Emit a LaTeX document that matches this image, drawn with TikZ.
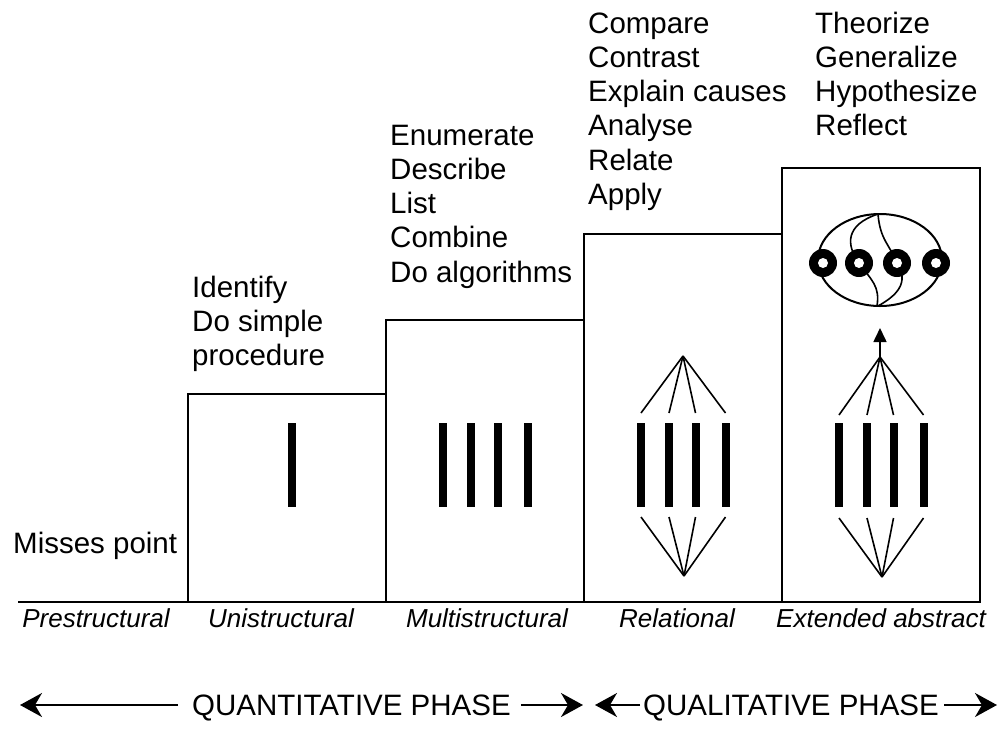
\documentclass[tikz,border=0pt]{standalone}
\usepackage{fontspec}
\setmainfont{Liberation Sans}
\usetikzlibrary{arrows.meta}

\begin{document}
\begin{tikzpicture}[
      x=1pt, y=-1pt,
      every node/.style={inner sep=0pt, font=\fontsize{29.5}{34.3}\selectfont},
      verbs/.style={align=left, anchor=base west},
      level/.style={anchor=base, font=\fontsize{26}{30}\selectfont\itshape},
      stepbox/.style={line width=2pt},
      bar/.style={line width=8pt},
      fan/.style={line width=1.6pt},
      phase/.style={line width=2pt, -{Stealth[length=22pt,width=24pt,inset=7pt]}}
    ]
      \useasboundingbox (0,0) rectangle (1002,729);

      % Steps
      \draw[stepbox] (18,602) -- (980,602);
      \draw[stepbox] (188,602) rectangle (386,394);
      \draw[stepbox] (386,602) rectangle (584,320);
      \draw[stepbox] (584,602) rectangle (782,234);
      \draw[stepbox] (782,602) rectangle (980,168);

      % Bars
      \draw[bar] (292,423) -- (292,507);
      \foreach \col in {386,584,782}
        \foreach \dx in {57,85,111.5,141.5}
          \draw[bar] ({\col+\dx},423) -- ({\col+\dx},507);

      % Relational fans
      \coordinate (reltop) at (683,356);
      \coordinate (relbot) at (684,576);
      \foreach \dx in {57,85,111.5,141.5} {
        \draw[fan] (reltop) -- ({584+\dx},413);
        \draw[fan] ({584+\dx},517) -- (relbot);
      }

      % Extended abstract fans
      \coordinate (exttop) at (880,357);
      \coordinate (extbot) at (882,577);
      \coordinate (extarrow) at (880,328);
      \foreach \dx in {57,85,111.5,141.5} {
        \draw[fan] (exttop) -- ({782+\dx},415);
        \draw[fan] ({782+\dx},518) -- (extbot);
      }
      \draw[fan, -{Triangle[length=14pt,width=13pt]}] (exttop) -- (extarrow);

      % Abstract structure
      \draw[line width=2pt] (880,260) ellipse [x radius=62, y radius=46];
      \draw[fan] (878,214) .. controls (845,225) and (846,245) .. (859,263)
                 .. controls (872,281) and (880,286) .. (877,306);
      \draw[fan] (878,214) .. controls (880,240) and (890,245) .. (897,263)
                 .. controls (910,283) and (896,296) .. (878,306);
      \foreach \x in {823,859,897,936} {
        \fill (\x,263) circle [radius=14];
        \fill[white] (\x,263) circle [radius=5];
      }

      % Verbs (anchored at the baseline of the last line)
      \node[verbs] (pre) at (13,553) {Misses point};
      \node[verbs] (univerbs) at (192,365.6) {Identify\\Do simple\\procedure};
      \node[verbs] (multiverbs) at (390,282.2) {Enumerate\\Describe\\List\\Combine\\Do algorithms};
      \node[verbs] (relverbs) at (588,204.5) {Compare\\Contrast\\Explain causes\\Analyse\\Relate\\Apply};
      \node[verbs] (extverbs) at (815,135.9) {Theorize\\Generalize\\Hypothesize\\Reflect};

      % Levels
      \node[level] (prelevel) at (96,627) {Prestructural};
      \node[level] (unilevel) at (281,627) {Unistructural};
      \node[level] (multilevel) at (487,627) {Multistructural};
      \node[level] (rellevel) at (677,627) {Relational};
      \node[level] (extlevel) at (881,627) {Extended abstract};

      % Phases
      \node[anchor=base west] (quant) at (192,715) {QUANTITATIVE PHASE};
      \node[anchor=base west] (qual) at (643,715) {QUALITATIVE PHASE};
      \coordinate (quantleft) at (20,705);
      \coordinate (quantright) at (583,705);
      \coordinate (qualleft) at (595,705);
      \coordinate (qualright) at (997,705);
      \draw[phase] ([xshift=-14pt]quant.west |- quantleft) -- (quantleft);
      \draw[phase] ([xshift=10pt]quant.east |- quantright) -- (quantright);
      \draw[phase] ([xshift=-3pt]qual.west |- qualleft) -- (qualleft);
      \draw[phase] ([xshift=5pt]qual.east |- qualright) -- (qualright);

    \end{tikzpicture}
\end{document}
